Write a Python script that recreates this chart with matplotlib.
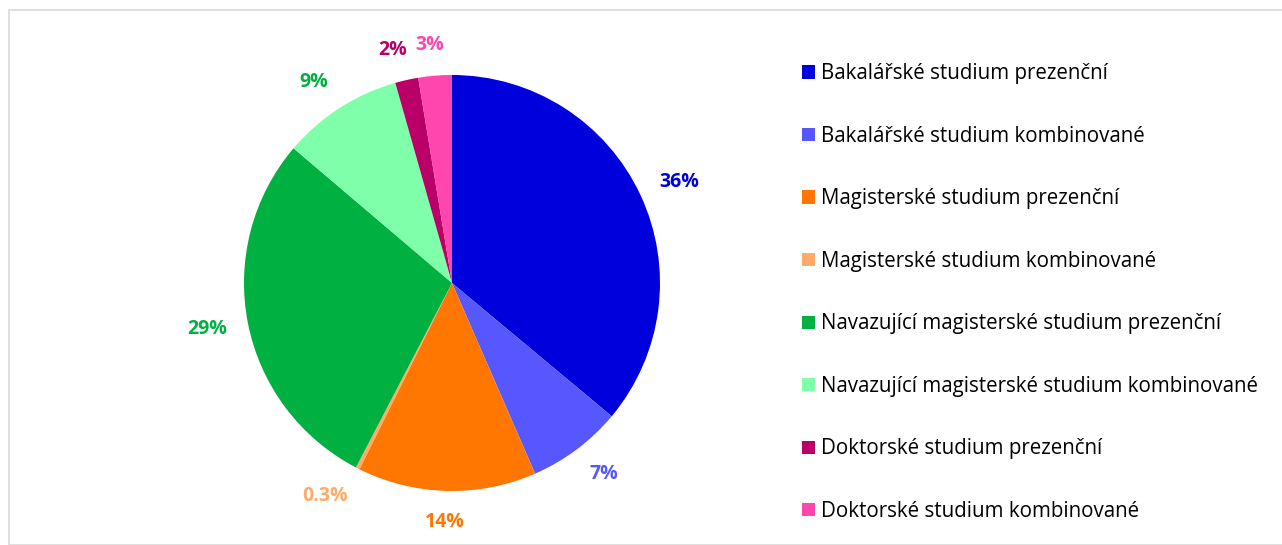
import numpy as np
import matplotlib.pyplot as plt
from matplotlib.patches import Rectangle

categories = [
    "Bakalářské studium prezenční",
    "Bakalářské studium kombinované",
    "Magisterské studium prezenční",
    "Magisterské studium kombinované",
    "Navazující magisterské studium prezenční",
    "Navazující magisterské studium kombinované",
    "Doktorské studium prezenční",
    "Doktorské studium kombinované",
]
shares = [36.1, 7.4, 13.9, 0.3, 28.6, 9.4, 1.8, 2.6]
colors = ["#0000DC", "#5757FF", "#FF7700", "#FFAA66",
          "#00B041", "#80FFAA", "#BA0068", "#FF45AE"]
label_colors = ["#0000DC", "#5757FF", "#FF7700", "#FFAA66",
                "#00B041", "#00B041", "#BA0068", "#FF45AE"]


def fmt(v):
    return f"{v:.1f}%" if v < 1 else f"{v:.0f}%"


plt.rcParams["font.family"] = ["Open Sans", "DejaVu Sans"]

fig = plt.figure(figsize=(12.82, 5.45), dpi=100)
W, H = 1282, 545

# light frame around the chart area
fig.patches.append(Rectangle((9 / W, 0), 1.0, 1 - 10 / H, transform=fig.transFigure,
                             fill=False, edgecolor="#d9d9d9", linewidth=1.2))

cx, cy, r = 452, 283, 208
ax = fig.add_axes([(cx - r) / W, (H - cy - r) / H, 2 * r / W, 2 * r / H])
wedges, texts = ax.pie(shares, colors=colors, startangle=90, counterclock=False,
                       labels=[fmt(v) for v in shares], labeldistance=1.1,
                       textprops=dict(fontsize=14, fontweight="bold"))
ax.set_xlim(-1, 1)
ax.set_ylim(-1, 1)
ax.axis("off")

# push labels outward so the box edge (not the centre) sits near the pie, like Excel
fig.canvas.draw()
renderer = fig.canvas.get_renderer()
for w, t, c in zip(wedges, texts, label_colors):
    t.set_color(c)
    t.set_ha("center")
    t.set_va("center")
    mid = np.deg2rad((w.theta1 + w.theta2) / 2)
    bb = t.get_window_extent(renderer)
    x, y = t.get_position()
    x += np.clip(np.cos(mid) * 3, -1, 1) * bb.width / 2 / r
    y += np.sin(mid) * bb.height / 2 / r
    t.set_position((x, y))

fig.legend(wedges, categories, loc="upper left", bbox_to_anchor=(794 / W, 1 - 55 / H),
           frameon=False, fontsize=14.8, handlelength=0.6, handleheight=0.6,
           handletextpad=0.3, labelspacing=2.02, borderaxespad=0)

fig.savefig("out.png", dpi=100)
